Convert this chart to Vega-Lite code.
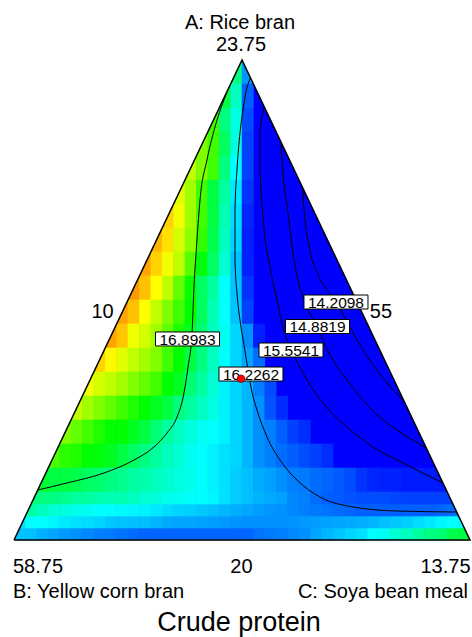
{
  "$schema": "https://vega.github.io/schema/vega-lite/v6.json",
  "width": 456,
  "height": 480,
  "autosize": {"type": "none"},
  "padding": {"left": 14, "top": 60, "right": 2, "bottom": 97},
  "background": "white",
  "config": {"view": {"stroke": null}},
  "encoding": {
    "x": {"field": "x", "type": "quantitative", "scale": {"domain": [0, 1], "nice": false, "zero": false}, "axis": null},
    "y": {"field": "y", "type": "quantitative", "scale": {"domain": [0, 1], "nice": false, "zero": false}, "axis": null}
  },
  "layer": [
    {
      "data": {"values": [{"x": 0, "y": 0, "b": 0}, {"x": 0.5, "y": 1, "b": 0}, {"x": 1, "y": 0, "b": 0}]},
      "mark": {"type": "area", "color": "#0000ff", "opacity": 1, "orient": "vertical"},
      "encoding": {"y2": {"field": "b"}}
    },
    {
      "data": {"values": [
        {"x":0.4875,"y":0.975,"v":16.7},{"x":0.5125,"y":0.975,"v":16.25},
        {"x":0.4625,"y":0.925,"v":16.8},{"x":0.4875,"y":0.925,"v":16.6},{"x":0.5125,"y":0.925,"v":16.15},
        {"x":0.4375,"y":0.875,"v":17.05},{"x":0.4625,"y":0.875,"v":16.7},{"x":0.4875,"y":0.875,"v":16.55},{"x":0.5125,"y":0.875,"v":16.12},
        {"x":0.4125,"y":0.825,"v":17.2},{"x":0.4375,"y":0.825,"v":17.05},{"x":0.4625,"y":0.825,"v":16.75},{"x":0.4875,"y":0.825,"v":16.55},{"x":0.5125,"y":0.825,"v":16.1},
        {"x":0.3875,"y":0.775,"v":17.35},{"x":0.4125,"y":0.775,"v":17.2},{"x":0.4375,"y":0.775,"v":17.05},{"x":0.4625,"y":0.775,"v":16.7},{"x":0.4875,"y":0.775,"v":16.5},{"x":0.5125,"y":0.775,"v":16.1},
        {"x":0.3625,"y":0.725,"v":17.43},{"x":0.3875,"y":0.725,"v":17.28},{"x":0.4125,"y":0.725,"v":17.05},{"x":0.4375,"y":0.725,"v":16.8},{"x":0.4625,"y":0.725,"v":16.65},{"x":0.4875,"y":0.725,"v":16.45},{"x":0.5125,"y":0.725,"v":16.08},
        {"x":0.3375,"y":0.675,"v":17.72},{"x":0.3625,"y":0.675,"v":17.47},{"x":0.3875,"y":0.675,"v":17.28},{"x":0.4125,"y":0.675,"v":17.05},{"x":0.4375,"y":0.675,"v":16.8},{"x":0.4625,"y":0.675,"v":16.62},{"x":0.4875,"y":0.675,"v":16.42},{"x":0.5125,"y":0.675,"v":16.06},
        {"x":0.3125,"y":0.625,"v":17.87},{"x":0.3375,"y":0.625,"v":17.65},{"x":0.3625,"y":0.625,"v":17.4},{"x":0.3875,"y":0.625,"v":17.24},{"x":0.4125,"y":0.625,"v":17.02},{"x":0.4375,"y":0.625,"v":16.78},{"x":0.4625,"y":0.625,"v":16.6},{"x":0.4875,"y":0.625,"v":16.4},{"x":0.5125,"y":0.625,"v":16.05},
        {"x":0.2875,"y":0.575,"v":17.95},{"x":0.3125,"y":0.575,"v":17.72},{"x":0.3375,"y":0.575,"v":17.47},{"x":0.3625,"y":0.575,"v":17.35},{"x":0.3875,"y":0.575,"v":17.1},{"x":0.4125,"y":0.575,"v":16.88},{"x":0.4375,"y":0.575,"v":16.75},{"x":0.4625,"y":0.575,"v":16.57},{"x":0.4875,"y":0.575,"v":16.36},{"x":0.5125,"y":0.575,"v":16.05},
        {"x":0.2625,"y":0.525,"v":18.0},{"x":0.2875,"y":0.525,"v":17.8},{"x":0.3125,"y":0.525,"v":17.5},{"x":0.3375,"y":0.525,"v":17.35},{"x":0.3625,"y":0.525,"v":17.13},{"x":0.3875,"y":0.525,"v":16.92},{"x":0.4125,"y":0.525,"v":16.75},{"x":0.4375,"y":0.525,"v":16.65},{"x":0.4625,"y":0.525,"v":16.5},{"x":0.4875,"y":0.525,"v":16.36},{"x":0.5125,"y":0.525,"v":16.08},
        {"x":0.2375,"y":0.475,"v":17.95},{"x":0.2625,"y":0.475,"v":17.8},{"x":0.2875,"y":0.475,"v":17.5},{"x":0.3125,"y":0.475,"v":17.35},{"x":0.3375,"y":0.475,"v":17.2},{"x":0.3625,"y":0.475,"v":17.05},{"x":0.3875,"y":0.475,"v":16.9},{"x":0.4125,"y":0.475,"v":16.75},{"x":0.4375,"y":0.475,"v":16.62},{"x":0.4625,"y":0.475,"v":16.5},{"x":0.4875,"y":0.475,"v":16.36},{"x":0.5125,"y":0.475,"v":16.1},
        {"x":0.2125,"y":0.425,"v":17.95},{"x":0.2375,"y":0.425,"v":17.78},{"x":0.2625,"y":0.425,"v":17.47},{"x":0.2875,"y":0.425,"v":17.4},{"x":0.3125,"y":0.425,"v":17.28},{"x":0.3375,"y":0.425,"v":17.13},{"x":0.3625,"y":0.425,"v":16.97},{"x":0.3875,"y":0.425,"v":16.85},{"x":0.4125,"y":0.425,"v":16.72},{"x":0.4375,"y":0.425,"v":16.6},{"x":0.4625,"y":0.425,"v":16.52},{"x":0.4875,"y":0.425,"v":16.4},{"x":0.5125,"y":0.425,"v":16.24},{"x":0.5375,"y":0.425,"v":16.05},
        {"x":0.1875,"y":0.375,"v":17.72},{"x":0.2125,"y":0.375,"v":17.53},{"x":0.2375,"y":0.375,"v":17.43},{"x":0.2625,"y":0.375,"v":17.35},{"x":0.2875,"y":0.375,"v":17.28},{"x":0.3125,"y":0.375,"v":17.2},{"x":0.3375,"y":0.375,"v":17.05},{"x":0.3625,"y":0.375,"v":16.9},{"x":0.3875,"y":0.375,"v":16.8},{"x":0.4125,"y":0.375,"v":16.7},{"x":0.4375,"y":0.375,"v":16.6},{"x":0.4625,"y":0.375,"v":16.5},{"x":0.4875,"y":0.375,"v":16.4},{"x":0.5125,"y":0.375,"v":16.29},{"x":0.5375,"y":0.375,"v":16.17},
        {"x":0.1625,"y":0.325,"v":17.47},{"x":0.1875,"y":0.325,"v":17.4},{"x":0.2125,"y":0.325,"v":17.35},{"x":0.2375,"y":0.325,"v":17.28},{"x":0.2625,"y":0.325,"v":17.2},{"x":0.2875,"y":0.325,"v":17.13},{"x":0.3125,"y":0.325,"v":17.05},{"x":0.3375,"y":0.325,"v":16.9},{"x":0.3625,"y":0.325,"v":16.85},{"x":0.3875,"y":0.325,"v":16.72},{"x":0.4125,"y":0.325,"v":16.65},{"x":0.4375,"y":0.325,"v":16.57},{"x":0.4625,"y":0.325,"v":16.47},{"x":0.4875,"y":0.325,"v":16.4},{"x":0.5125,"y":0.325,"v":16.33},{"x":0.5375,"y":0.325,"v":16.2},{"x":0.5625,"y":0.325,"v":16.12},
        {"x":0.1375,"y":0.275,"v":17.35},{"x":0.1625,"y":0.275,"v":17.28},{"x":0.1875,"y":0.275,"v":17.2},{"x":0.2125,"y":0.275,"v":17.13},{"x":0.2375,"y":0.275,"v":17.05},{"x":0.2625,"y":0.275,"v":16.97},{"x":0.2875,"y":0.275,"v":16.9},{"x":0.3125,"y":0.275,"v":16.85},{"x":0.3375,"y":0.275,"v":16.8},{"x":0.3625,"y":0.275,"v":16.7},{"x":0.3875,"y":0.275,"v":16.65},{"x":0.4125,"y":0.275,"v":16.6},{"x":0.4375,"y":0.275,"v":16.55},{"x":0.4625,"y":0.275,"v":16.47},{"x":0.4875,"y":0.275,"v":16.4},{"x":0.5125,"y":0.275,"v":16.33},{"x":0.5375,"y":0.275,"v":16.24},{"x":0.5625,"y":0.275,"v":16.13},{"x":0.5875,"y":0.275,"v":16.07},
        {"x":0.1125,"y":0.225,"v":17.2},{"x":0.1375,"y":0.225,"v":17.13},{"x":0.1625,"y":0.225,"v":17.05},{"x":0.1875,"y":0.225,"v":16.97},{"x":0.2125,"y":0.225,"v":16.9},{"x":0.2375,"y":0.225,"v":16.9},{"x":0.2625,"y":0.225,"v":16.85},{"x":0.2875,"y":0.225,"v":16.8},{"x":0.3125,"y":0.225,"v":16.72},{"x":0.3375,"y":0.225,"v":16.65},{"x":0.3625,"y":0.225,"v":16.6},{"x":0.3875,"y":0.225,"v":16.55},{"x":0.4125,"y":0.225,"v":16.52},{"x":0.4375,"y":0.225,"v":16.5},{"x":0.4625,"y":0.225,"v":16.47},{"x":0.4875,"y":0.225,"v":16.4},{"x":0.5125,"y":0.225,"v":16.33},{"x":0.5375,"y":0.225,"v":16.24},{"x":0.5625,"y":0.225,"v":16.2},{"x":0.5875,"y":0.225,"v":16.15},{"x":0.6125,"y":0.225,"v":16.1},{"x":0.6375,"y":0.225,"v":16.07},
        {"x":0.0875,"y":0.175,"v":17.08},{"x":0.1125,"y":0.175,"v":17.0},{"x":0.1375,"y":0.175,"v":16.97},{"x":0.1625,"y":0.175,"v":16.9},{"x":0.1875,"y":0.175,"v":16.88},{"x":0.2125,"y":0.175,"v":16.85},{"x":0.2375,"y":0.175,"v":16.8},{"x":0.2625,"y":0.175,"v":16.75},{"x":0.2875,"y":0.175,"v":16.7},{"x":0.3125,"y":0.175,"v":16.65},{"x":0.3375,"y":0.175,"v":16.6},{"x":0.3625,"y":0.175,"v":16.57},{"x":0.3875,"y":0.175,"v":16.52},{"x":0.4125,"y":0.175,"v":16.5},{"x":0.4375,"y":0.175,"v":16.47},{"x":0.4625,"y":0.175,"v":16.43},{"x":0.4875,"y":0.175,"v":16.4},{"x":0.5125,"y":0.175,"v":16.33},{"x":0.5375,"y":0.175,"v":16.24},{"x":0.5625,"y":0.175,"v":16.2},{"x":0.5875,"y":0.175,"v":16.17},{"x":0.6125,"y":0.175,"v":16.15},{"x":0.6375,"y":0.175,"v":16.12},{"x":0.6625,"y":0.175,"v":16.1},{"x":0.6875,"y":0.175,"v":16.07},
        {"x":0.0625,"y":0.125,"v":16.82},{"x":0.0875,"y":0.125,"v":16.8},{"x":0.1125,"y":0.125,"v":16.8},{"x":0.1375,"y":0.125,"v":16.78},{"x":0.1625,"y":0.125,"v":16.75},{"x":0.1875,"y":0.125,"v":16.73},{"x":0.2125,"y":0.125,"v":16.7},{"x":0.2375,"y":0.125,"v":16.68},{"x":0.2625,"y":0.125,"v":16.65},{"x":0.2875,"y":0.125,"v":16.63},{"x":0.3125,"y":0.125,"v":16.6},{"x":0.3375,"y":0.125,"v":16.58},{"x":0.3625,"y":0.125,"v":16.55},{"x":0.3875,"y":0.125,"v":16.53},{"x":0.4125,"y":0.125,"v":16.5},{"x":0.4375,"y":0.125,"v":16.47},{"x":0.4625,"y":0.125,"v":16.43},{"x":0.4875,"y":0.125,"v":16.38},{"x":0.5125,"y":0.125,"v":16.35},{"x":0.5375,"y":0.125,"v":16.3},{"x":0.5625,"y":0.125,"v":16.28},{"x":0.5875,"y":0.125,"v":16.24},{"x":0.6125,"y":0.125,"v":16.2},{"x":0.6375,"y":0.125,"v":16.19},{"x":0.6625,"y":0.125,"v":16.17},{"x":0.6875,"y":0.125,"v":16.16},{"x":0.7125,"y":0.125,"v":16.14},{"x":0.7375,"y":0.125,"v":16.12},{"x":0.7625,"y":0.125,"v":16.08},{"x":0.7875,"y":0.125,"v":16.06},{"x":0.8125,"y":0.125,"v":16.05},{"x":0.8375,"y":0.125,"v":16.05},{"x":0.8625,"y":0.125,"v":16.04},{"x":0.8875,"y":0.125,"v":16.04},{"x":0.9125,"y":0.125,"v":16.04},{"x":0.9375,"y":0.125,"v":16.04}
      ]},
      "mark": {"type": "rect", "width": 12, "height": 24.6},
      "encoding": {
        "color": {"field": "v", "type": "quantitative", "legend": null,
          "scale": {"domain": [16.0, 16.2, 16.5, 16.9, 17.5, 18.0], "range": ["#0000ff", "#0080ff", "#00ffff", "#00ff00", "#ffff00", "#ff9900"], "interpolate": "rgb", "clamp": true}}
      }
    },
    {
      "data": {"values": [
        {"x":0.0125,"y":0.0125,"v":16.36},{"x":0.0375,"y":0.0125,"v":16.35},{"x":0.0625,"y":0.0125,"v":16.31},{"x":0.0875,"y":0.0125,"v":16.29},{"x":0.1125,"y":0.0125,"v":16.26},{"x":0.1375,"y":0.0125,"v":16.24},{"x":0.1625,"y":0.0125,"v":16.22},{"x":0.1875,"y":0.0125,"v":16.2},{"x":0.2125,"y":0.0125,"v":16.19},{"x":0.2375,"y":0.0125,"v":16.18},{"x":0.2625,"y":0.0125,"v":16.17},{"x":0.2875,"y":0.0125,"v":16.16},{"x":0.3125,"y":0.0125,"v":16.16},{"x":0.3375,"y":0.0125,"v":16.16},{"x":0.3625,"y":0.0125,"v":16.16},{"x":0.3875,"y":0.0125,"v":16.16},{"x":0.4125,"y":0.0125,"v":16.16},{"x":0.4375,"y":0.0125,"v":16.16},{"x":0.4625,"y":0.0125,"v":16.16},{"x":0.4875,"y":0.0125,"v":16.16},{"x":0.5125,"y":0.0125,"v":16.16},{"x":0.5375,"y":0.0125,"v":16.18},{"x":0.5625,"y":0.0125,"v":16.19},{"x":0.5875,"y":0.0125,"v":16.2},{"x":0.6125,"y":0.0125,"v":16.22},{"x":0.6375,"y":0.0125,"v":16.24},{"x":0.6625,"y":0.0125,"v":16.29},{"x":0.6875,"y":0.0125,"v":16.33},{"x":0.7125,"y":0.0125,"v":16.36},{"x":0.7375,"y":0.0125,"v":16.4},{"x":0.7625,"y":0.0125,"v":16.43},{"x":0.7875,"y":0.0125,"v":16.5},{"x":0.8125,"y":0.0125,"v":16.52},{"x":0.8375,"y":0.0125,"v":16.57},{"x":0.8625,"y":0.0125,"v":16.6},{"x":0.8875,"y":0.0125,"v":16.65},{"x":0.9125,"y":0.0125,"v":16.7},{"x":0.9375,"y":0.0125,"v":16.72},{"x":0.9625,"y":0.0125,"v":16.78},{"x":0.9875,"y":0.0125,"v":16.8},
        {"x":0.0125,"y":0.0375,"v":16.43},{"x":0.0375,"y":0.0375,"v":16.5},{"x":0.0625,"y":0.0375,"v":16.5},{"x":0.0875,"y":0.0375,"v":16.48},{"x":0.1125,"y":0.0375,"v":16.45},{"x":0.1375,"y":0.0375,"v":16.43},{"x":0.1625,"y":0.0375,"v":16.42},{"x":0.1875,"y":0.0375,"v":16.4},{"x":0.2125,"y":0.0375,"v":16.37},{"x":0.2375,"y":0.0375,"v":16.36},{"x":0.2625,"y":0.0375,"v":16.35},{"x":0.2875,"y":0.0375,"v":16.35},{"x":0.3125,"y":0.0375,"v":16.33},{"x":0.3375,"y":0.0375,"v":16.3},{"x":0.3625,"y":0.0375,"v":16.29},{"x":0.3875,"y":0.0375,"v":16.29},{"x":0.4125,"y":0.0375,"v":16.28},{"x":0.4375,"y":0.0375,"v":16.27},{"x":0.4625,"y":0.0375,"v":16.26},{"x":0.4875,"y":0.0375,"v":16.25},{"x":0.5125,"y":0.0375,"v":16.24},{"x":0.5375,"y":0.0375,"v":16.24},{"x":0.5625,"y":0.0375,"v":16.24},{"x":0.5875,"y":0.0375,"v":16.24},{"x":0.6125,"y":0.0375,"v":16.25},{"x":0.6375,"y":0.0375,"v":16.26},{"x":0.6625,"y":0.0375,"v":16.27},{"x":0.6875,"y":0.0375,"v":16.28},{"x":0.7125,"y":0.0375,"v":16.29},{"x":0.7375,"y":0.0375,"v":16.3},{"x":0.7625,"y":0.0375,"v":16.31},{"x":0.7875,"y":0.0375,"v":16.33},{"x":0.8125,"y":0.0375,"v":16.35},{"x":0.8375,"y":0.0375,"v":16.37},{"x":0.8625,"y":0.0375,"v":16.39},{"x":0.8875,"y":0.0375,"v":16.42},{"x":0.9125,"y":0.0375,"v":16.45},{"x":0.9375,"y":0.0375,"v":16.48},{"x":0.9625,"y":0.0375,"v":16.5},{"x":0.9875,"y":0.0375,"v":16.52},
        {"x":0.0375,"y":0.0625,"v":16.65},{"x":0.0625,"y":0.0625,"v":16.6},{"x":0.0875,"y":0.0625,"v":16.57},{"x":0.1125,"y":0.0625,"v":16.55},{"x":0.1375,"y":0.0625,"v":16.53},{"x":0.1625,"y":0.0625,"v":16.52},{"x":0.1875,"y":0.0625,"v":16.5},{"x":0.2125,"y":0.0625,"v":16.5},{"x":0.2375,"y":0.0625,"v":16.49},{"x":0.2625,"y":0.0625,"v":16.48},{"x":0.2875,"y":0.0625,"v":16.47},{"x":0.3125,"y":0.0625,"v":16.45},{"x":0.3375,"y":0.0625,"v":16.42},{"x":0.3625,"y":0.0625,"v":16.4},{"x":0.3875,"y":0.0625,"v":16.39},{"x":0.4125,"y":0.0625,"v":16.37},{"x":0.4375,"y":0.0625,"v":16.35},{"x":0.4625,"y":0.0625,"v":16.33},{"x":0.4875,"y":0.0625,"v":16.31},{"x":0.5125,"y":0.0625,"v":16.29},{"x":0.5375,"y":0.0625,"v":16.27},{"x":0.5625,"y":0.0625,"v":16.25},{"x":0.5875,"y":0.0625,"v":16.24},{"x":0.6125,"y":0.0625,"v":16.22},{"x":0.6375,"y":0.0625,"v":16.2},{"x":0.6625,"y":0.0625,"v":16.19},{"x":0.6875,"y":0.0625,"v":16.18},{"x":0.7125,"y":0.0625,"v":16.17},{"x":0.7375,"y":0.0625,"v":16.16},{"x":0.7625,"y":0.0625,"v":16.15},{"x":0.7875,"y":0.0625,"v":16.15},{"x":0.8125,"y":0.0625,"v":16.15},{"x":0.8375,"y":0.0625,"v":16.15},{"x":0.8625,"y":0.0625,"v":16.15},{"x":0.8875,"y":0.0625,"v":16.15},{"x":0.9125,"y":0.0625,"v":16.15},{"x":0.9375,"y":0.0625,"v":16.16},{"x":0.9625,"y":0.0625,"v":16.17},
        {"x":0.0375,"y":0.0875,"v":16.72},{"x":0.0625,"y":0.0875,"v":16.7},{"x":0.0875,"y":0.0875,"v":16.7},{"x":0.1125,"y":0.0875,"v":16.68},{"x":0.1375,"y":0.0875,"v":16.65},{"x":0.1625,"y":0.0875,"v":16.65},{"x":0.1875,"y":0.0875,"v":16.63},{"x":0.2125,"y":0.0875,"v":16.62},{"x":0.2375,"y":0.0875,"v":16.62},{"x":0.2625,"y":0.0875,"v":16.6},{"x":0.2875,"y":0.0875,"v":16.57},{"x":0.3125,"y":0.0875,"v":16.56},{"x":0.3375,"y":0.0875,"v":16.53},{"x":0.3625,"y":0.0875,"v":16.52},{"x":0.3875,"y":0.0875,"v":16.51},{"x":0.4125,"y":0.0875,"v":16.5},{"x":0.4375,"y":0.0875,"v":16.48},{"x":0.4625,"y":0.0875,"v":16.43},{"x":0.4875,"y":0.0875,"v":16.38},{"x":0.5125,"y":0.0875,"v":16.35},{"x":0.5375,"y":0.0875,"v":16.32},{"x":0.5625,"y":0.0875,"v":16.3},{"x":0.5875,"y":0.0875,"v":16.28},{"x":0.6125,"y":0.0875,"v":16.22},{"x":0.6375,"y":0.0875,"v":16.2},{"x":0.6625,"y":0.0875,"v":16.17},{"x":0.6875,"y":0.0875,"v":16.15},{"x":0.7125,"y":0.0875,"v":16.14},{"x":0.7375,"y":0.0875,"v":16.13},{"x":0.7625,"y":0.0875,"v":16.12},{"x":0.7875,"y":0.0875,"v":16.12},{"x":0.8125,"y":0.0875,"v":16.12},{"x":0.8375,"y":0.0875,"v":16.11},{"x":0.8625,"y":0.0875,"v":16.1},{"x":0.8875,"y":0.0875,"v":16.1},{"x":0.9125,"y":0.0875,"v":16.1},{"x":0.9375,"y":0.0875,"v":16.1},{"x":0.9625,"y":0.0875,"v":16.1}
      ]},
      "mark": {"type": "rect", "width": 12, "height": 12.6},
      "encoding": {
        "color": {"field": "v", "type": "quantitative", "legend": null,
          "scale": {"domain": [16.0, 16.2, 16.5, 16.9, 17.5, 18.0], "range": ["#0000ff", "#0080ff", "#00ffff", "#00ff00", "#ffff00", "#ff9900"], "interpolate": "rgb", "clamp": true}}
      }
    },
    {
      "data": {"values": [{"x": -0.1, "y": -0.2, "t": 1.1}, {"x": 0.5, "y": 1, "t": 1.1}, {"x": 1.1, "y": -0.2, "t": 1.1}]},
      "mark": {"type": "area", "color": "white", "opacity": 1, "orient": "vertical", "clip": false},
      "encoding": {"y2": {"field": "t"}}
    },
    {
      "data": {"values": [
        {"c":"16.8983","o":1,"x":0.4671,"y":0.9333},{"c":"16.8983","o":2,"x":0.4408,"y":0.8604},{"c":"16.8983","o":3,"x":0.4232,"y":0.7917},{"c":"16.8983","o":4,"x":0.4079,"y":0.7083},{"c":"16.8983","o":5,"x":0.4013,"y":0.625},{"c":"16.8983","o":6,"x":0.3947,"y":0.5271},{"c":"16.8983","o":7,"x":0.3904,"y":0.4313},{"c":"16.8983","o":8,"x":0.3816,"y":0.3604},{"c":"16.8983","o":9,"x":0.3728,"y":0.3063},{"c":"16.8983","o":10,"x":0.3575,"y":0.2563},{"c":"16.8983","o":11,"x":0.3355,"y":0.2229},{"c":"16.8983","o":12,"x":0.307,"y":0.1938},{"c":"16.8983","o":13,"x":0.2632,"y":0.1667},{"c":"16.8983","o":14,"x":0.1974,"y":0.1396},{"c":"16.8983","o":15,"x":0.1162,"y":0.1188},{"c":"16.8983","o":16,"x":0.0521,"y":0.1042},
        {"c":"16.2262","o":1,"x":0.5185,"y":0.9625},{"c":"16.2262","o":2,"x":0.5088,"y":0.9333},{"c":"16.2262","o":3,"x":0.5022,"y":0.8958},{"c":"16.2262","o":4,"x":0.4956,"y":0.8479},{"c":"16.2262","o":5,"x":0.489,"y":0.7708},{"c":"16.2262","o":6,"x":0.4846,"y":0.6875},{"c":"16.2262","o":7,"x":0.4846,"y":0.5833},{"c":"16.2262","o":8,"x":0.489,"y":0.5146},{"c":"16.2262","o":9,"x":0.4956,"y":0.4583},{"c":"16.2262","o":10,"x":0.5044,"y":0.4063},{"c":"16.2262","o":11,"x":0.5132,"y":0.3542},{"c":"16.2262","o":12,"x":0.5219,"y":0.3083},{"c":"16.2262","o":13,"x":0.5329,"y":0.2708},{"c":"16.2262","o":14,"x":0.5548,"y":0.2146},{"c":"16.2262","o":15,"x":0.5833,"y":0.1667},{"c":"16.2262","o":16,"x":0.6206,"y":0.125},{"c":"16.2262","o":17,"x":0.6711,"y":0.0896},{"c":"16.2262","o":18,"x":0.7434,"y":0.0688},{"c":"16.2262","o":19,"x":0.8399,"y":0.0604},{"c":"16.2262","o":20,"x":0.9708,"y":0.0583},
        {"c":"15.5541","o":1,"x":0.549,"y":0.9021},{"c":"15.5541","o":2,"x":0.5395,"y":0.8479},{"c":"15.5541","o":3,"x":0.5395,"y":0.7771},{"c":"15.5541","o":4,"x":0.5461,"y":0.6729},{"c":"15.5541","o":5,"x":0.5614,"y":0.5688},{"c":"15.5541","o":6,"x":0.5768,"y":0.5},{"c":"15.5541","o":7,"x":0.5899,"y":0.4438},{"c":"15.5541","o":8,"x":0.6118,"y":0.3896},{"c":"15.5541","o":9,"x":0.6425,"y":0.3333},{"c":"15.5541","o":10,"x":0.6776,"y":0.2854},{"c":"15.5541","o":11,"x":0.7303,"y":0.2354},{"c":"15.5541","o":12,"x":0.7873,"y":0.1938},{"c":"15.5541","o":13,"x":0.8531,"y":0.1604},{"c":"15.5541","o":14,"x":0.9406,"y":0.1188},
        {"c":"14.8819","o":1,"x":0.5854,"y":0.8292},{"c":"14.8819","o":2,"x":0.5899,"y":0.7646},{"c":"14.8819","o":3,"x":0.6009,"y":0.6813},{"c":"14.8819","o":4,"x":0.6118,"y":0.5979},{"c":"14.8819","o":5,"x":0.6228,"y":0.5417},{"c":"14.8819","o":6,"x":0.636,"y":0.5},{"c":"14.8819","o":7,"x":0.6645,"y":0.4438},{"c":"14.8819","o":8,"x":0.693,"y":0.3854},{"c":"14.8819","o":9,"x":0.7303,"y":0.3333},{"c":"14.8819","o":10,"x":0.7807,"y":0.275},{"c":"14.8819","o":11,"x":0.8399,"y":0.2292},{"c":"14.8819","o":12,"x":0.9042,"y":0.1917},
        {"c":"14.2098","o":1,"x":0.6323,"y":0.7354},{"c":"14.2098","o":2,"x":0.6382,"y":0.6667},{"c":"14.2098","o":3,"x":0.6491,"y":0.6042},{"c":"14.2098","o":4,"x":0.6667,"y":0.5521},{"c":"14.2098","o":5,"x":0.6864,"y":0.5208},{"c":"14.2098","o":6,"x":0.7061,"y":0.4958},{"c":"14.2098","o":7,"x":0.7303,"y":0.4542},{"c":"14.2098","o":8,"x":0.7654,"y":0.3958},{"c":"14.2098","o":9,"x":0.8092,"y":0.3375},{"c":"14.2098","o":10,"x":0.8563,"y":0.2875}
      ]},
      "mark": {"type": "line", "color": "black", "strokeWidth": 1, "interpolate": "monotone"},
      "encoding": {
        "detail": {"field": "c", "type": "nominal"},
        "order": {"field": "o", "type": "quantitative"}
      }
    },
    {
      "data": {"values": [{"x": 0, "y": 0, "o": 0}, {"x": 0.5, "y": 1, "o": 1}, {"x": 1, "y": 0, "o": 2}, {"x": 0, "y": 0, "o": 3}]},
      "mark": {"type": "line", "color": "black", "strokeWidth": 1.5, "strokeJoin": "miter"},
      "encoding": {"order": {"field": "o", "type": "quantitative"}}
    },
    {
      "data": {"values": [
        {"t": "14.2098", "x": 0.7061, "y": 0.4958},
        {"t": "14.8819", "x": 0.6656, "y": 0.4448},
        {"t": "15.5541", "x": 0.6075, "y": 0.3958},
        {"t": "16.2262", "x": 0.5197, "y": 0.3458},
        {"t": "16.8983", "x": 0.3805, "y": 0.4188}
      ]},
      "layer": [
        {"mark": {"type": "rect", "width": 64, "height": 14, "fill": "white", "stroke": "black", "strokeWidth": 1}},
        {"mark": {"type": "text", "font": "Liberation Sans", "fontSize": 15.5, "baseline": "middle", "align": "center", "dy": 1, "color": "black"},
         "encoding": {"text": {"field": "t", "type": "nominal"}}}
      ]
    },
    {
      "data": {"values": [{"x": 0.4978, "y": 0.336}]},
      "mark": {"type": "point", "shape": "circle", "filled": true, "size": 55, "color": "#ff0000", "stroke": "#800000", "strokeWidth": 0.8, "opacity": 1}
    },
    {
      "data": {"values": [
        {"t": "A: Rice bran", "x": 0.4956, "y": 1.0646},
        {"t": "23.75", "x": 0.4978, "y": 1.0188},
        {"t": "10", "x": 0.1941, "y": 0.4625},
        {"t": "55", "x": 0.8048, "y": 0.4625},
        {"t": "58.75", "x": 0.0526, "y": -0.0688},
        {"t": "20", "x": 0.4989, "y": -0.0688},
        {"t": "13.75", "x": 0.9463, "y": -0.0688}
      ]},
      "mark": {"type": "text", "font": "Liberation Sans", "fontSize": 20, "baseline": "alphabetic", "align": "center", "color": "black"},
      "encoding": {"text": {"field": "t", "type": "nominal"}}
    },
    {
      "data": {"values": [{"t": "B: Yellow corn bran", "x": -0.0022, "y": -0.1208}]},
      "mark": {"type": "text", "font": "Liberation Sans", "fontSize": 20, "baseline": "alphabetic", "align": "left", "color": "black"},
      "encoding": {"text": {"field": "t", "type": "nominal"}}
    },
    {
      "data": {"values": [{"t": "C: Soya bean meal", "x": 0.9956, "y": -0.1208}]},
      "mark": {"type": "text", "font": "Liberation Sans", "fontSize": 20, "baseline": "alphabetic", "align": "right", "color": "black"},
      "encoding": {"text": {"field": "t", "type": "nominal"}}
    },
    {
      "data": {"values": [{"t": "Crude protein", "x": 0.4934, "y": -0.1896}]},
      "mark": {"type": "text", "font": "Liberation Sans", "fontSize": 27, "baseline": "alphabetic", "align": "center", "color": "black"},
      "encoding": {"text": {"field": "t", "type": "nominal"}}
    }
  ]
}
